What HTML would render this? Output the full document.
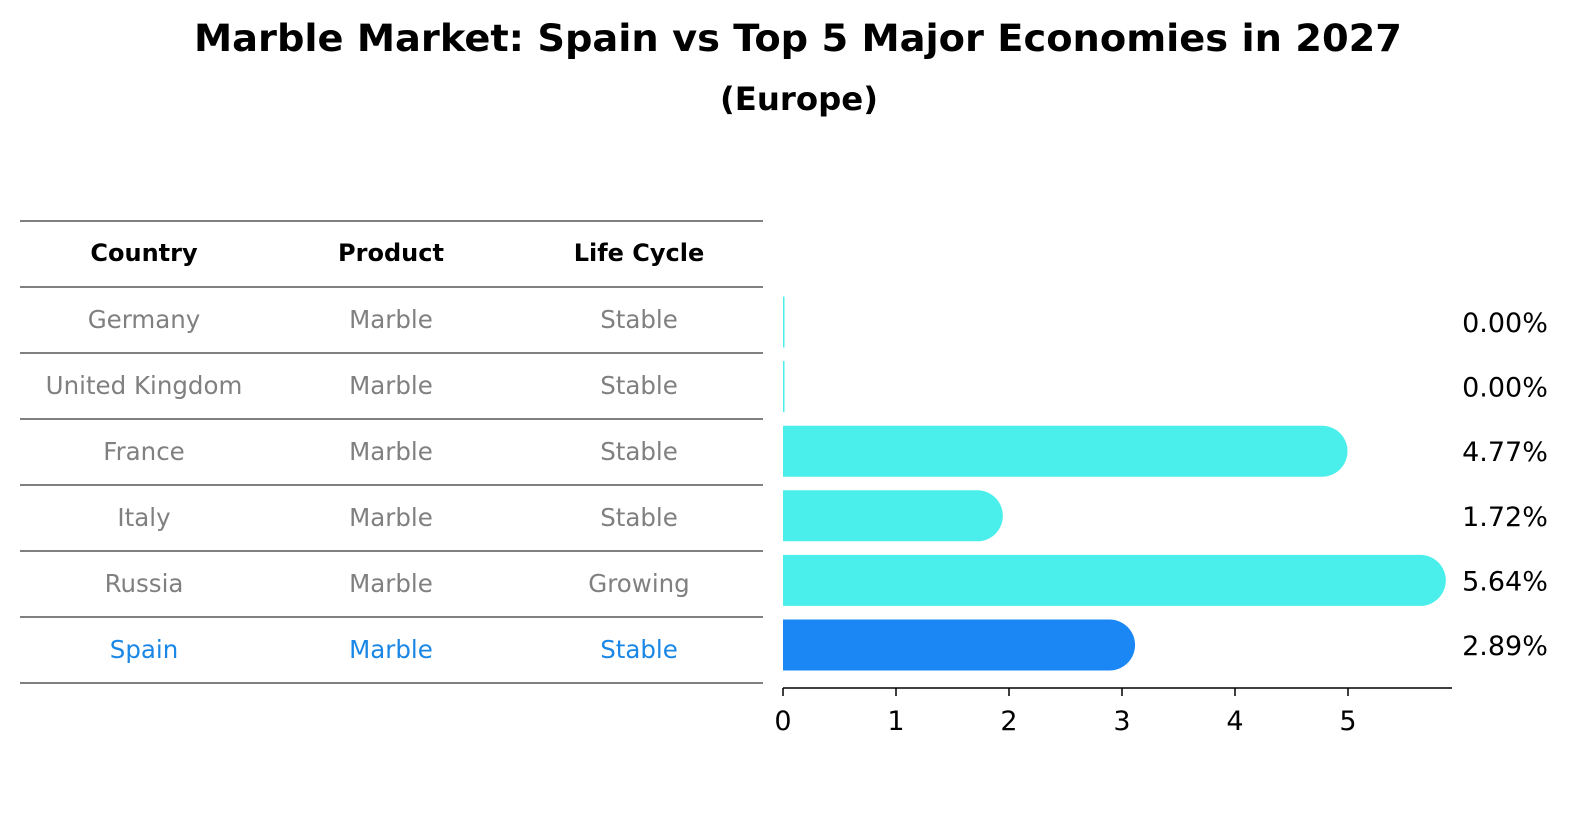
<!DOCTYPE html>
<html><head><meta charset="utf-8"><style>
body{margin:0;background:#fff;}
svg text{font-family:"DejaVu Sans","Liberation Sans",sans-serif;}
</style></head><body>
<svg width="1586" height="823" xmlns="http://www.w3.org/2000/svg">
<rect width="1586" height="823" fill="#fff"/>
<text x="798" y="51" text-anchor="middle" font-size="37" font-weight="bold" textLength="1208" lengthAdjust="spacingAndGlyphs">Marble Market: Spain vs Top 5 Major Economies in 2027</text>
<text x="799" y="110" text-anchor="middle" font-size="32" font-weight="bold" textLength="158" lengthAdjust="spacingAndGlyphs">(Europe)</text>
<g id="table"></g>
<g id="bars"></g>
</svg>
<script>
const countries=["Germany","United Kingdom","France","Italy","Russia","Spain"];
const products=["Marble","Marble","Marble","Marble","Marble","Marble"];
const lifecycles=["Stable","Stable","Stable","Stable","Growing","Stable"];
const values=[0.00,0.00,4.77,1.72,5.64,2.89];
const ticks=[0,1,2,3,4,5];
const NS="http://www.w3.org/2000/svg";
function mk(tag,attrs,parent){const e=document.createElementNS(NS,tag);for(const k in attrs)e.setAttribute(k,attrs[k]);parent.appendChild(e);return e;}
const tbl=document.getElementById('table');
const lineY=r=>221+r*66;
for(let i=0;i<=countries.length+1;i++){
  const l=mk('line',{x1:20,x2:763,y1:lineY(i),y2:lineY(i),stroke:'#000','stroke-width':1},tbl);
  
  
}
const colX=[144,391,639];
["Country","Product","Life Cycle"].forEach((h,j)=>{
  const t=mk('text',{x:colX[j],y:261,'text-anchor':'middle','font-size':24,'font-weight':'bold'},tbl);
  t.textContent=h;
  
  
});
countries.forEach((c,i)=>{
  const cy=lineY(i+1)+33+8;
  const col=c==="Spain"?"#1a87e6":"#808080";
  [c,products[i],lifecycles[i]].forEach((v,j)=>{
    const t=mk('text',{x:colX[j],y:cy,'text-anchor':'middle','font-size':24.5,fill:col},tbl);
    t.textContent=v;
    
    
  });
});
const g=document.getElementById('bars');
const x0=783,pxPer=113;
const xs=v=>x0+v*pxPer;
const yc=i=>322+i*64.6;
const bh=51,r=25.5;
values.forEach((v,i)=>{
  const c=countries[i]==="Spain"?"#1a87f5":"#4aeeea";
  const top=yc(i)-bh/2;
  const xe=xs(v);
  if(v<=0){
    const rc=mk('rect',{x:x0,y:top,width:1.5,height:bh,fill:c},g);
    
    
  } else {
    const d=`M${x0},${top} L${xe},${top} A${r},${bh/2} 0 0 1 ${xe},${top+bh} L${x0},${top+bh} Z`;
    const p=mk('path',{d:d,fill:c},g);
    
    
  }
  const t=mk('text',{x:1505,y:yc(i)+10,'text-anchor':'middle','font-size':27},g);
  t.textContent=v.toFixed(2)+'%';
  
  
});
const ax=mk('line',{x1:x0,x2:1452,y1:688,y2:688,stroke:'#000','stroke-width':1.5},g);


ticks.forEach(tv=>{
  const tl=mk('line',{x1:xs(tv),x2:xs(tv),y1:688,y2:696,stroke:'#000','stroke-width':1.5},g);
  
  
  const t=mk('text',{x:xs(tv),y:730,'text-anchor':'middle','font-size':27},g);
  t.textContent=tv;
  
  
});
</script>
</body></html>
